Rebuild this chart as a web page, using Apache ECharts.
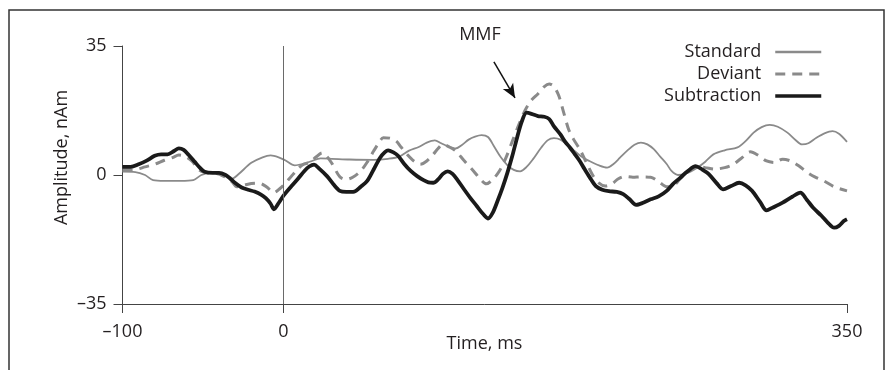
<!DOCTYPE html>
<html>
<head>
<meta charset="utf-8">
<script src="https://cdn.jsdelivr.net/npm/echarts@6.0.0/dist/echarts.min.js"></script>
<style>
  html, body { margin: 0; padding: 0; background: #fff; }
  #chart { width: 893px; height: 370px; }
</style>
</head>
<body>
<div id="chart"></div>
<script>
// [time ms, amplitude nAm]
const standard = [
  [-100, 0.9], [-92, 0.8], [-86, 0.0], [-81, -1.4], [-74, -1.6], [-64, -1.6], [-56, -1.4], [-51, 0.0],
  [-45, 0.6], [-38, 0.4], [-32, -1.0], [-28, 0.2], [-20, 3.3], [-13, 4.8], [-8, 5.3], [-3, 4.8],
  [1, 4.0], [7, 2.6], [12, 3.0], [17, 3.7], [23, 4.5], [30, 4.4], [41, 4.2], [56, 4.1], [65, 4.4],
  [72, 5.0], [78, 6.6], [84, 7.6], [89, 8.8], [94, 9.4], [98, 8.6], [102, 7.8], [107, 7.2], [111, 8.2],
  [115, 9.6], [119, 10.4], [123, 10.8], [127, 10.3], [131, 7.6], [135, 4.8], [139, 2.7], [143, 1.4],
  [147, 1.0], [151, 2.2], [155, 4.3], [160, 7.4], [164, 9.4], [168, 10.0], [172, 9.6], [176, 8.3],
  [180, 6.8], [185, 5.0], [190, 3.8], [196, 2.6], [201, 2.0], [205, 3.0], [209, 4.7], [214, 6.8],
  [218, 8.2], [222, 8.8], [226, 8.3], [230, 7.0], [234, 5.0], [238, 3.0], [241, 1.1], [245, 0.0],
  [250, 0.4], [257, 2.0], [262, 3.6], [267, 5.6], [274, 6.7], [282, 7.5], [287, 9.2], [292, 11.5],
  [297, 13.0], [302, 13.6], [307, 13.1], [313, 11.5], [318, 9.5], [322, 8.3], [326, 8.6], [331, 10.1],
  [336, 11.3], [341, 11.9], [345, 11.2], [350, 9.0]
];

const deviant = [
  [-100, 1.4], [-92, 1.5], [-86, 2.2], [-80, 2.9], [-74, 4.0], [-69, 4.7], [-65, 5.4], [-61, 5.0],
  [-57, 3.8], [-52, 1.3], [-47, 0.6], [-42, 0.5], [-36, -0.6], [-32, -1.8], [-29, -3.2], [-25, -2.8],
  [-20, -2.3], [-15, -2.2], [-10, -3.4], [-6, -4.8], [-2, -3.6], [1, -2.3], [5, -0.3], [8, 1.2],
  [12, 2.8], [16, 3.4], [20, 4.8], [24, 6.0], [27, 5.0], [30, 3.2], [35, -0.5], [39, -1.2], [43, -0.6],
  [48, 1.1], [52, 3.5], [56, 6.5], [59, 8.6], [62, 10.1], [66, 10.0], [70, 9.2], [73, 7.6], [77, 5.5],
  [81, 3.8], [85, 2.9], [89, 3.8], [93, 5.6], [96, 7.2], [99, 8.3], [103, 7.6], [107, 6.5], [112, 4.0],
  [118, 1.1], [122, -1.0], [126, -2.4], [130, -1.2], [134, 1.0], [138, 4.5], [142, 9.0], [146, 13.5],
  [150, 17.5], [154, 20.3], [158, 22.0], [162, 24.0], [165, 24.7], [168, 24.0], [171, 21.5], [174, 17.0],
  [177, 12.5], [180, 9.8], [184, 7.0], [188, 3.5], [192, 0.0], [196, -2.2], [200, -3.0], [204, -2.4],
  [208, -1.0], [212, -0.4], [217, -0.6], [222, -0.5], [228, -0.6], [233, -1.8], [238, -3.2], [242, -3.0],
  [246, -1.2], [250, 0.6], [256, 2.3], [262, 2.0], [268, 1.6], [274, 2.0], [279, 2.8], [284, 4.4],
  [290, 6.3], [295, 5.3], [300, 3.8], [305, 3.4], [310, 4.3], [315, 3.8], [320, 2.5], [325, 0.8],
  [330, -0.5], [336, -1.7], [342, -3.2], [346, -3.8], [350, -4.3]
];

const subtraction = [
  [-100, 2.2], [-95, 2.2], [-90, 2.9], [-85, 3.9], [-80, 5.2], [-76, 5.6], [-72, 5.6], [-68, 6.5],
  [-65, 7.2], [-62, 6.8], [-59, 5.5], [-55, 3.5], [-52, 2.0], [-49, 0.9], [-44, 0.6], [-40, 0.6],
  [-36, 0.0], [-33, -1.0], [-30, -2.2], [-26, -3.4], [-22, -4.0], [-18, -4.5], [-14, -5.3], [-11, -6.3],
  [-8, -7.8], [-6, -9.3], [-3, -7.6], [0, -5.6], [5, -3.0], [9, -1.0], [13, 1.1], [16, 2.3], [19, 2.8],
  [22, 1.8], [27, -0.3], [31, -2.5], [35, -4.3], [39, -4.6], [44, -4.5], [48, -3.2], [52, -1.6],
  [56, 1.5], [60, 4.7], [63, 6.2], [65, 6.7], [68, 6.2], [71, 5.3], [75, 3.0], [79, 1.1], [83, -0.3],
  [87, -1.4], [90, -2.0], [93, -2.1], [96, -1.2], [99, 0.3], [102, 1.0], [105, 0.3], [108, -1.3],
  [112, -3.8], [116, -6.2], [120, -8.4], [124, -10.6], [127, -11.8], [130, -10.2], [133, -7.0],
  [136, -3.5], [139, 0.5], [142, 5.0], [145, 10.0], [148, 14.5], [151, 16.9], [154, 16.6], [158, 16.0],
  [162, 15.8], [165, 15.2], [168, 13.2], [172, 11.0], [175, 9.0], [178, 7.4], [181, 5.6], [184, 3.8],
  [187, 1.6], [190, -0.5], [194, -3.0], [198, -4.0], [202, -4.4], [207, -4.6], [211, -5.2], [215, -6.6],
  [219, -8.1], [223, -7.6], [228, -6.6], [233, -5.8], [238, -4.3], [242, -2.4], [246, -0.9], [251, 1.0],
  [256, 2.4], [260, 1.5], [264, 0.3], [269, -2.2], [273, -3.9], [278, -3.0], [283, -2.1], [287, -2.8],
  [291, -4.3], [296, -7.3], [300, -9.6], [304, -8.8], [310, -7.5], [316, -5.9], [321, -4.8], [325, -6.7],
  [329, -8.9], [334, -11.0], [338, -12.9], [342, -14.3], [345, -13.8], [348, -12.5], [350, -12.0]
];

const xTicks = [-100, 0, 350];
const arrowFrom = [130.7, 30.7];
const arrowTo = [143.8, 20.9];

const font = '"Open Sans", "Noto Sans", sans-serif';
const ink = '#231f20';
const dash = (v) => (v < 0 ? '\u2013' + Math.abs(v) : String(v));

const chart = echarts.init(document.getElementById('chart'), null, { renderer: 'canvas' });

chart.setOption({
  animation: false,
  backgroundColor: '#fff',
  textStyle: { fontFamily: font },
  grid: { left: 122.5, right: 46, top: 46, bottom: 66 },
  legend: {
    orient: 'vertical',
    right: 65,
    top: 38,
    align: 'right',
    itemWidth: 46,
    itemHeight: 14,
    itemGap: 4,
    selectedMode: false,
    // hide the marker dot that line series put in the middle of the legend icon
    itemStyle: { opacity: 0 },
    textStyle: { color: ink, fontSize: 18, fontFamily: font, padding: [0, 9, 0, 0] },
    data: [
      { name: 'Standard', lineStyle: { width: 2.5 } },
      { name: 'Deviant', lineStyle: { width: 3 } },
      { name: 'Subtraction', lineStyle: { width: 3.5 } },
    ],
  },
  xAxis: {
    type: 'value',
    min: -100,
    max: 350,
    splitLine: { show: false },
    axisLine: { onZero: false, lineStyle: { color: '#444', width: 1 } },
    axisTick: { show: true, length: 9, customValues: xTicks, lineStyle: { color: '#444' } },
    axisLabel: { customValues: xTicks, formatter: dash, color: ink, fontSize: 18, margin: 19, fontFamily: font },
  },
  yAxis: {
    type: 'value',
    min: -35,
    max: 35,
    interval: 35,
    splitLine: { show: false },
    axisLine: { show: true, onZero: false, lineStyle: { color: '#444', width: 1 } },
    axisTick: { show: true, length: 9, lineStyle: { color: '#444' } },
    axisLabel: { formatter: dash, color: ink, fontSize: 18, margin: 16, fontFamily: font },
  },
  graphic: [
    {
      type: 'rect',
      silent: true,
      z: -1,
      shape: { x: 9, y: 10, width: 875, height: 400 },
      style: { fill: 'none', stroke: '#333', lineWidth: 1.5 },
    },
    {
      type: 'text',
      x: 62,
      y: 157.5,
      rotation: Math.PI / 2,
      style: { text: 'Amplitude, nAm', font: '18px ' + font, fill: ink, align: 'center', verticalAlign: 'middle' },
    },
    {
      type: 'text',
      x: 484.5,
      y: 344,
      style: { text: 'Time, ms', font: '18px ' + font, fill: ink, align: 'center', verticalAlign: 'middle' },
    },
    {
      type: 'text',
      x: 480,
      y: 35,
      style: { text: 'MMF', font: '18px ' + font, fill: ink, align: 'center', verticalAlign: 'middle' },
    },
  ],
  series: [
    {
      name: 'Standard',
      type: 'line',
      data: standard,
      symbol: 'none',
      smooth: 0.3,
      lineStyle: { color: '#8a8a8a', width: 1.8 },
      itemStyle: { color: '#8a8a8a' },
      markLine: {
        silent: true,
        symbol: ['none', 'none'],
        label: { show: false },
        lineStyle: { color: '#6a6a6a', width: 1, type: 'solid' },
        data: [{ xAxis: 0 }],
      },
    },
    {
      name: 'Deviant',
      type: 'line',
      data: deviant,
      symbol: 'none',
      smooth: 0.3,
      lineStyle: { color: '#8a8a8a', width: 3, type: [10, 7] },
      itemStyle: { color: '#8a8a8a' },
    },
    {
      name: 'Subtraction',
      type: 'line',
      data: subtraction,
      symbol: 'none',
      smooth: 0.3,
      lineStyle: { color: '#1a1a1a', width: 3.8 },
      itemStyle: { color: '#1a1a1a' },
      markLine: {
        silent: true,
        symbol: ['none', 'arrow'],
        symbolSize: [9, 14],
        label: { show: false },
        lineStyle: { color: '#111', width: 1.5, type: 'solid' },
        data: [[{ coord: arrowFrom }, { coord: arrowTo }]],
      },
    },
  ],
});
</script>
</body>
</html>
